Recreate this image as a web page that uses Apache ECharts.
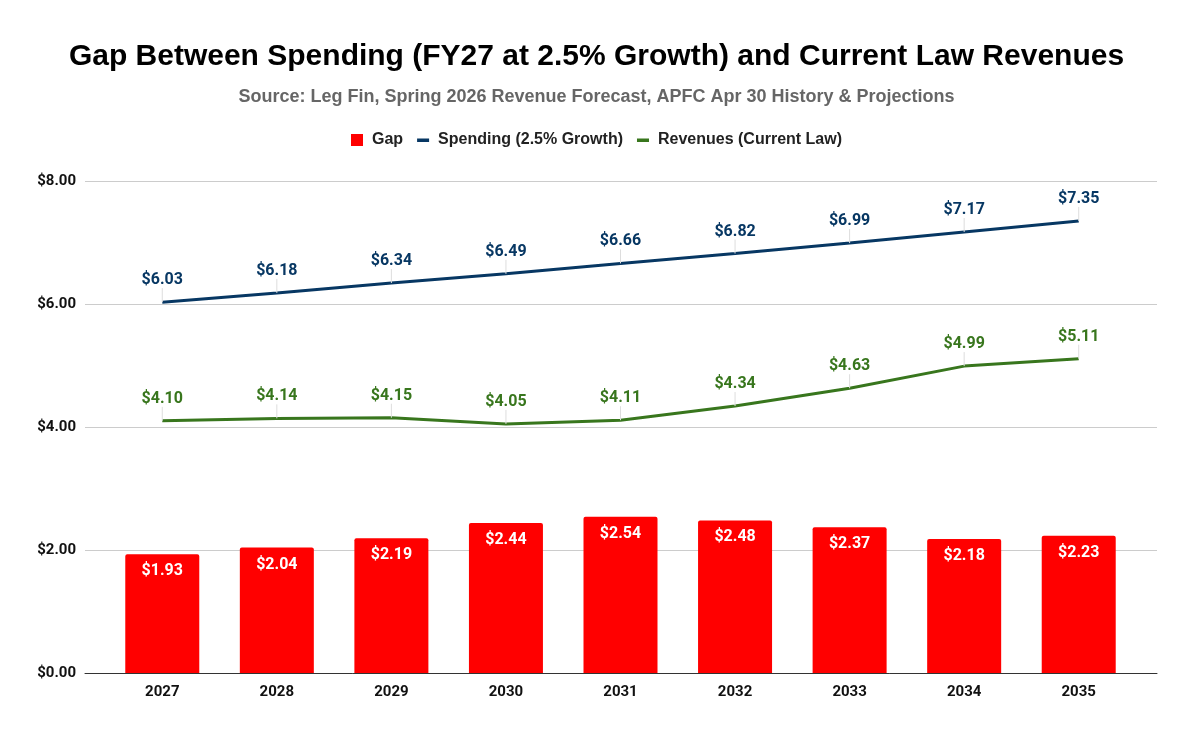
<!DOCTYPE html>
<html>
<head>
<meta charset="utf-8">
<script src="https://cdn.jsdelivr.net/npm/echarts@6/dist/echarts.min.js"></script>
<style>
html, body { margin: 0; padding: 0; background: #fff; }
#chart { width: 1193px; height: 737px; }
</style>
</head>
<body>
<div id="chart"></div>
<script>
// fiscal years
var years = ['2027', '2028', '2029', '2030', '2031', '2032', '2033', '2034', '2035'];
// $ billions
var spending = [6.03, 6.18, 6.34, 6.49, 6.66, 6.82, 6.99, 7.17, 7.35];
var revenues = [4.10, 4.14, 4.15, 4.05, 4.11, 4.34, 4.63, 4.99, 5.11];
var gap = [1.93, 2.04, 2.19, 2.44, 2.54, 2.48, 2.37, 2.18, 2.23];
var yTicks = [0, 2, 4, 6, 8];

var RED = '#ff0000', NAVY = '#073763', GREEN = '#38761d';
var ROBOTO = 'Roboto';
var ARIAL = '"Liberation Sans", Arial, sans-serif';
var LINE_ICON = 'path://M0,4.5h12v3.5h-12zM0,0h0.01v12h-0.01z';

function money(v) { return '$' + Number(v).toFixed(2); }

// labels sit above the line, tied to the point by a thin grey leader
function lineSeries(name, data, color) {
	return {
		name: name, type: 'line', xAxisIndex: 1, yAxisIndex: 1,
		data: data, symbol: 'circle', symbolSize: 0.1, showSymbol: true,
		lineStyle: { color: color, width: 3 }, itemStyle: { color: color },
		label: {
			show: true,
			position: 'top',
			distance: 5,
			color: color,
			fontFamily: ROBOTO,
			fontWeight: 'bold',
			fontSize: 16,
			formatter: function (p) { return money(p.value); }
		},
		labelLayout: { dy: -9 },
		labelLine: { show: true, lineStyle: { color: '#dddddd', width: 1 } }
	};
}

var chart = echarts.init(document.getElementById('chart'));
chart.setOption({
	animation: false,
	backgroundColor: '#fff',
	title: [
		{
			text: 'Gap Between Spending (FY27 at 2.5% Growth) and Current Law Revenues',
			left: 'center',
			top: 37,
			textStyle: { fontFamily: ARIAL, fontWeight: 'bold', fontSize: 30, color: '#000' }
		},
		{
			text: 'Source: Leg Fin, Spring 2026 Revenue Forecast, APFC Apr 30 History & Projections',
			left: 'center',
			top: 83,
			textStyle: { fontFamily: ARIAL, fontWeight: 'bold', fontSize: 18, color: '#666666' }
		}
	],
	legend: {
		top: 127,
		left: 'center',
		itemWidth: 12,
		itemHeight: 12,
		itemGap: 14,
		textStyle: { fontFamily: ARIAL, fontWeight: 'bold', fontSize: 16, color: '#222', padding: [0, 0, 0, 4] },
		data: [
			{ name: 'Gap', icon: 'rect' },
			{ name: 'Spending (2.5% Growth)', icon: LINE_ICON },
			{ name: 'Revenues (Current Law)', icon: LINE_ICON }
		]
	},
	grid: [
		{ left: 85, right: 36, top: 181, bottom: 64 },
		{ left: 105, right: 57, top: 181, bottom: 64 }
	],
	xAxis: [
		{
			gridIndex: 0, type: 'value', min: 0, max: 1,
			axisLine: { show: true, lineStyle: { color: '#333', width: 1 } },
			axisTick: { show: false }, axisLabel: { show: false }, splitLine: { show: false }
		},
		{
			gridIndex: 1, type: 'category', data: years,
			axisLine: { show: false }, axisTick: { show: false },
			axisLabel: { margin: 12, color: '#111', fontFamily: ROBOTO, fontWeight: 'bold', fontSize: 15 }
		}
	],
	yAxis: [
		{
			gridIndex: 0, type: 'value', min: yTicks[0], max: yTicks[yTicks.length - 1], interval: 2,
			axisLine: { show: false }, axisTick: { show: false },
			axisLabel: { margin: 9, color: '#111', fontFamily: ROBOTO, fontWeight: 'bold', fontSize: 15, formatter: money },
			splitLine: { lineStyle: { color: '#cccccc', width: 1 } }
		},
		{
			gridIndex: 1, type: 'value', min: yTicks[0], max: yTicks[yTicks.length - 1], interval: 2,
			show: false
		}
	],
	series: [
		{
			name: 'Gap', type: 'bar', xAxisIndex: 1, yAxisIndex: 1,
			data: gap, barWidth: 74,
			itemStyle: { color: RED, borderRadius: [2, 2, 0, 0] },
			label: {
				show: true, position: 'insideTop', distance: 9,
				color: '#fff', fontFamily: ROBOTO, fontWeight: 'bold', fontSize: 16,
				formatter: function (p) { return money(p.value); }
			}
		},
		lineSeries('Spending (2.5% Growth)', spending, NAVY),
		lineSeries('Revenues (Current Law)', revenues, GREEN)
	]
});
</script>
</body>
</html>
